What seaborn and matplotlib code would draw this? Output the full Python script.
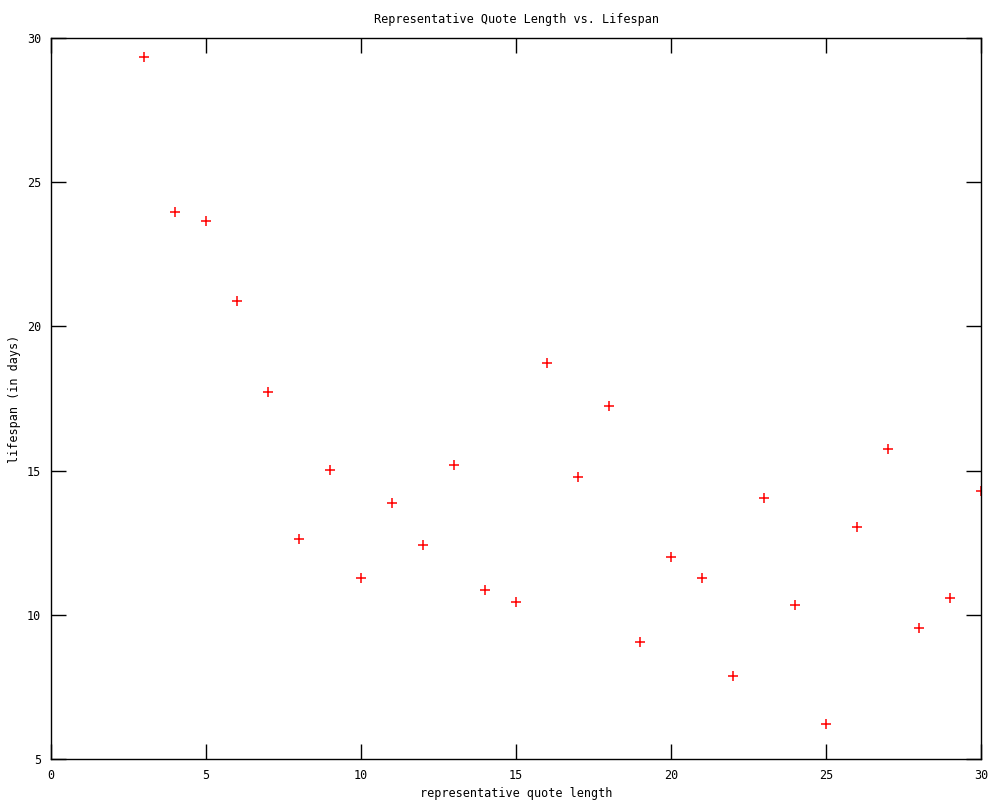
import matplotlib
matplotlib.use("Agg")
import pandas as pd
import seaborn as sns
from matplotlib import pyplot as plt

quote_length = list(range(3, 31))
lifespan = [29.34, 23.97, 23.65, 20.88, 17.73, 12.63, 15.02, 11.28, 13.88, 12.42,
            15.19, 10.86, 10.44, 18.73, 14.78, 17.24, 9.06, 12.0, 11.28, 7.88,
            14.05, 10.34, 6.21, 13.04, 15.75, 9.54, 10.58, 14.29]

df = pd.DataFrame({"length": quote_length, "lifespan": lifespan})

sns.set_style("ticks")
plt.rcParams["font.family"] = ["DejaVu Sans Mono"]
plt.rcParams["text.color"] = "black"
plt.rcParams["axes.labelcolor"] = "black"

fig = plt.figure(figsize=(10, 8), dpi=100)
ax = fig.add_axes([0.051, 0.05125, 0.930, 0.90125])

sns.scatterplot(data=df, x="length", y="lifespan", ax=ax, marker="+",
                color="#ff0000", s=50, linewidth=1.1)

ax.set_xlim(0, 30)
ax.set_ylim(5, 30)
ax.set_xticks(range(0, 31, 5))
ax.set_yticks(range(5, 31, 5))
ax.tick_params(direction="in", length=11, width=1, top=True, right=True,
               labelsize=8.5, colors="black", pad=7)
for s in ax.spines.values():
    s.set_linewidth(1)
    s.set_color("black")

ax.set_xlabel("representative quote length", fontsize=8.5, labelpad=4)
ax.set_ylabel("lifespan (in days)", fontsize=8.5, labelpad=4)
ax.set_title("Representative Quote Length vs. Lifespan", fontsize=8.5, pad=11)

plt.savefig("out.png", dpi=100)
